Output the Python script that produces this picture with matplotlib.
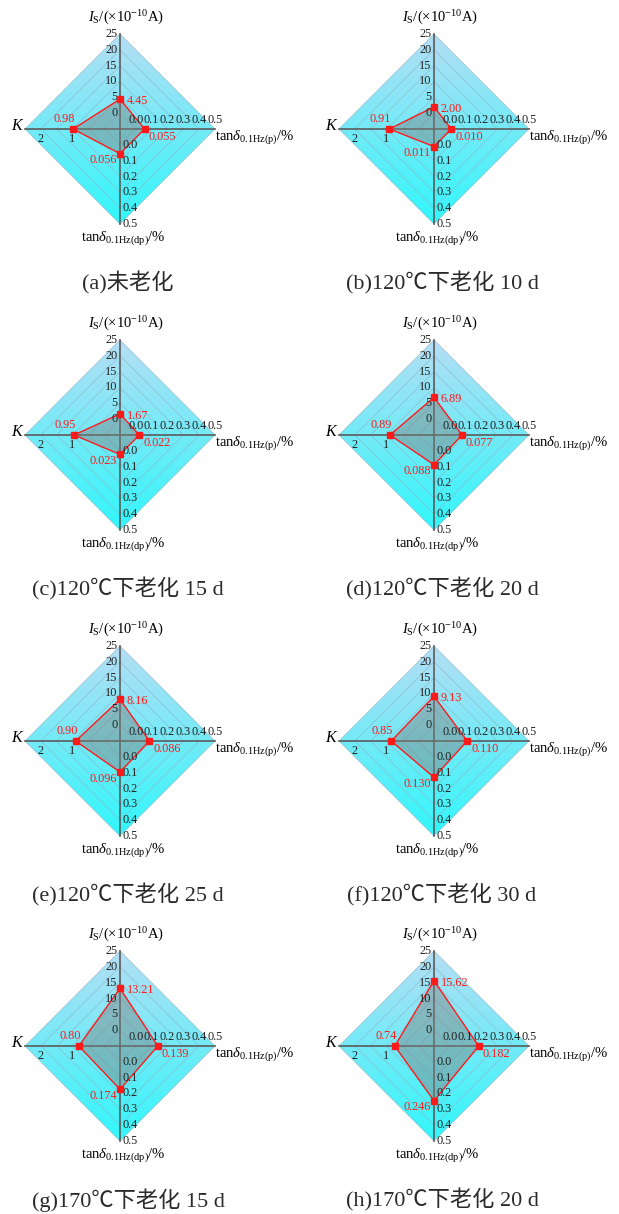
import matplotlib
matplotlib.use("Agg")
import matplotlib.pyplot as plt
from matplotlib.patches import Polygon
from matplotlib.colors import LinearSegmentedColormap
import numpy as np

plt.rcParams['font.family'] = ['Liberation Serif', 'Noto Sans CJK SC', 'DejaVu Sans']
plt.rcParams['mathtext.fontset'] = 'custom'
plt.rcParams['mathtext.rm'] = 'Liberation Serif'
plt.rcParams['mathtext.it'] = 'Liberation Serif:italic'
plt.rcParams['mathtext.bf'] = 'Liberation Serif:bold'

# data
captions = ['(a)未老化', '(b)120℃下老化 10 d', '(c)120℃下老化 15 d', '(d)120℃下老化 20 d',
            '(e)120℃下老化 25 d', '(f)120℃下老化 30 d', '(g)170℃下老化 15 d', '(h)170℃下老化 20 d']
Is_vals = [4.45, 2.00, 1.67, 6.89, 8.16, 9.13, 13.21, 15.62]
tan_p = [0.055, 0.010, 0.022, 0.077, 0.086, 0.110, 0.139, 0.182]
tan_dp = [0.056, 0.011, 0.023, 0.088, 0.096, 0.130, 0.174, 0.246]
K_vals = [0.98, 0.91, 0.95, 0.89, 0.90, 0.85, 0.80, 0.74]

Is_fmt = ['4.45', '2.00', '1.67', '6.89', '8.16', '9.13', '13.21', '15.62']
p_fmt = ['0.055', '0.010', '0.022', '0.077', '0.086', '0.110', '0.139', '0.182']
dp_fmt = ['0.056', '0.011', '0.023', '0.088', '0.096', '0.130', '0.174', '0.246']
K_fmt = ['0.98', '0.91', '0.95', '0.89', '0.90', '0.85', '0.80', '0.74']

Is_ticks = [0, 5, 10, 15, 20, 25]
tan_ticks = ['0.0', '0.1', '0.2', '0.3', '0.4', '0.5']
K_ticks = [1, 2]

# axis steps: first ring is the 0 value, 6 rings in total
Is_step, tan_step, K_step = 5.0, 0.1, 0.5
NR = 6

W, H = 619, 1214
R = 95.0       # diamond radius in px
HALF = 150.0   # half size of each panel axes in px
col_x = [120, 434]
row_y = [129, 435, 741, 1046]

grad = LinearSegmentedColormap.from_list('g', ['#b6def4', '#30f7fb'])
red = '#ff1a1a'
axcol = '#5c5c5c'


def rad(v, step):
    return (v / step + 1.0) / NR


fig = plt.figure(figsize=(W / 100, H / 100), dpi=100)

for i in range(8):
    cx = col_x[i % 2]
    cy = row_y[i // 2]
    ax = fig.add_axes([(cx - HALF) / W, 1 - (cy + HALF) / H, 2 * HALF / W, 2 * HALF / H])
    lim = HALF / R
    ax.set_xlim(-lim, lim)
    ax.set_ylim(-lim, lim)
    ax.axis('off')

    # gradient filled diamond
    outer = Polygon([[0, 1], [1, 0], [0, -1], [-1, 0]], closed=True, fc='none', ec='none')
    ax.add_patch(outer)
    g = np.linspace(0, 1, 256).reshape(-1, 1)
    im = ax.imshow(g, cmap=grad, extent=[-1, 1, -1, 1], origin='upper', aspect='auto', zorder=1)
    im.set_clip_path(outer)

    # rings
    for k in range(1, NR + 1):
        r = k / NR
        ax.plot([0, r, 0, -r, 0], [r, 0, -r, 0, r], color='#8db6c6', lw=0.6, alpha=0.7, zorder=2)

    # axes lines
    for dx, dy in [(0, 1), (1, 0), (0, -1), (-1, 0)]:
        ax.plot([0, dx], [0, dy], color=axcol, lw=1.2, zorder=3)

    # tick labels
    fs = 8.8
    for k, t in enumerate(Is_ticks):
        ax.text(-0.03, rad(t, Is_step), str(t), ha='right', va='center', fontsize=fs, color='#222222', zorder=6)
    for k, t in enumerate(tan_ticks):
        r = (k + 1) / NR
        ax.text(r, 0.03, t, ha='center', va='bottom', fontsize=fs, color='#222222', zorder=6)
        ax.text(0.03, -r, t, ha='left', va='center', fontsize=fs, color='#222222', zorder=6)
    for t in K_ticks:
        ax.text(-rad(t, K_step), -0.04, str(t), ha='center', va='top', fontsize=fs, color='#222222', zorder=6)

    # axis titles
    ax.text(0.06, 1.17, r'$I_{\mathrm{S}}$/(×10$^{-10}$A)', ha='center', va='center', fontsize=10.5)
    ax.text(-1.0, 0.03, r'$K$', ha='right', va='center', fontsize=11.5)
    ax.text(1.0, -0.09, r'tan$\delta_{\mathrm{0.1Hz(p)}}$/%', ha='left', va='center', fontsize=10.5)
    ax.text(0.03, -1.15, r'tan$\delta_{\mathrm{0.1Hz(dp)}}$/%', ha='center', va='center', fontsize=10.5)

    # data polygon
    rt = rad(Is_vals[i], Is_step)
    rr = rad(tan_p[i], tan_step)
    rb = rad(tan_dp[i], tan_step)
    rl = rad(K_vals[i], K_step)
    xs = [0, rr, 0, -rl]
    ys = [rt, 0, -rb, 0]
    poly = Polygon(list(zip(xs, ys)), closed=True, fc='#808080', alpha=0.45, ec='none', zorder=4)
    ax.add_patch(poly)
    ax.plot(xs + [xs[0]], ys + [ys[0]], color=red, lw=1.0, zorder=5)
    ax.plot(xs, ys, 's', color=red, ms=4, zorder=7)

    vfs = 8.8
    ax.text(0.07, rt - 0.02, Is_fmt[i], ha='left', va='center', fontsize=vfs, color=red, zorder=8)
    ax.text(rr + 0.04, -0.085, p_fmt[i], ha='left', va='center', fontsize=vfs, color=red, zorder=8)
    ax.text(-0.03, -rb - 0.07, dp_fmt[i], ha='right', va='center', fontsize=vfs, color=red, zorder=8)
    ax.text(-rl + 0.02, 0.11, K_fmt[i], ha='right', va='center', fontsize=vfs, color=red, zorder=8)

    # caption
    fig.text((cx + 8) / W, 1 - (cy + 154) / H, captions[i], ha='center', va='center',
             fontsize=16, color='#2a2a2a')

fig.savefig('out.png', dpi=100)
